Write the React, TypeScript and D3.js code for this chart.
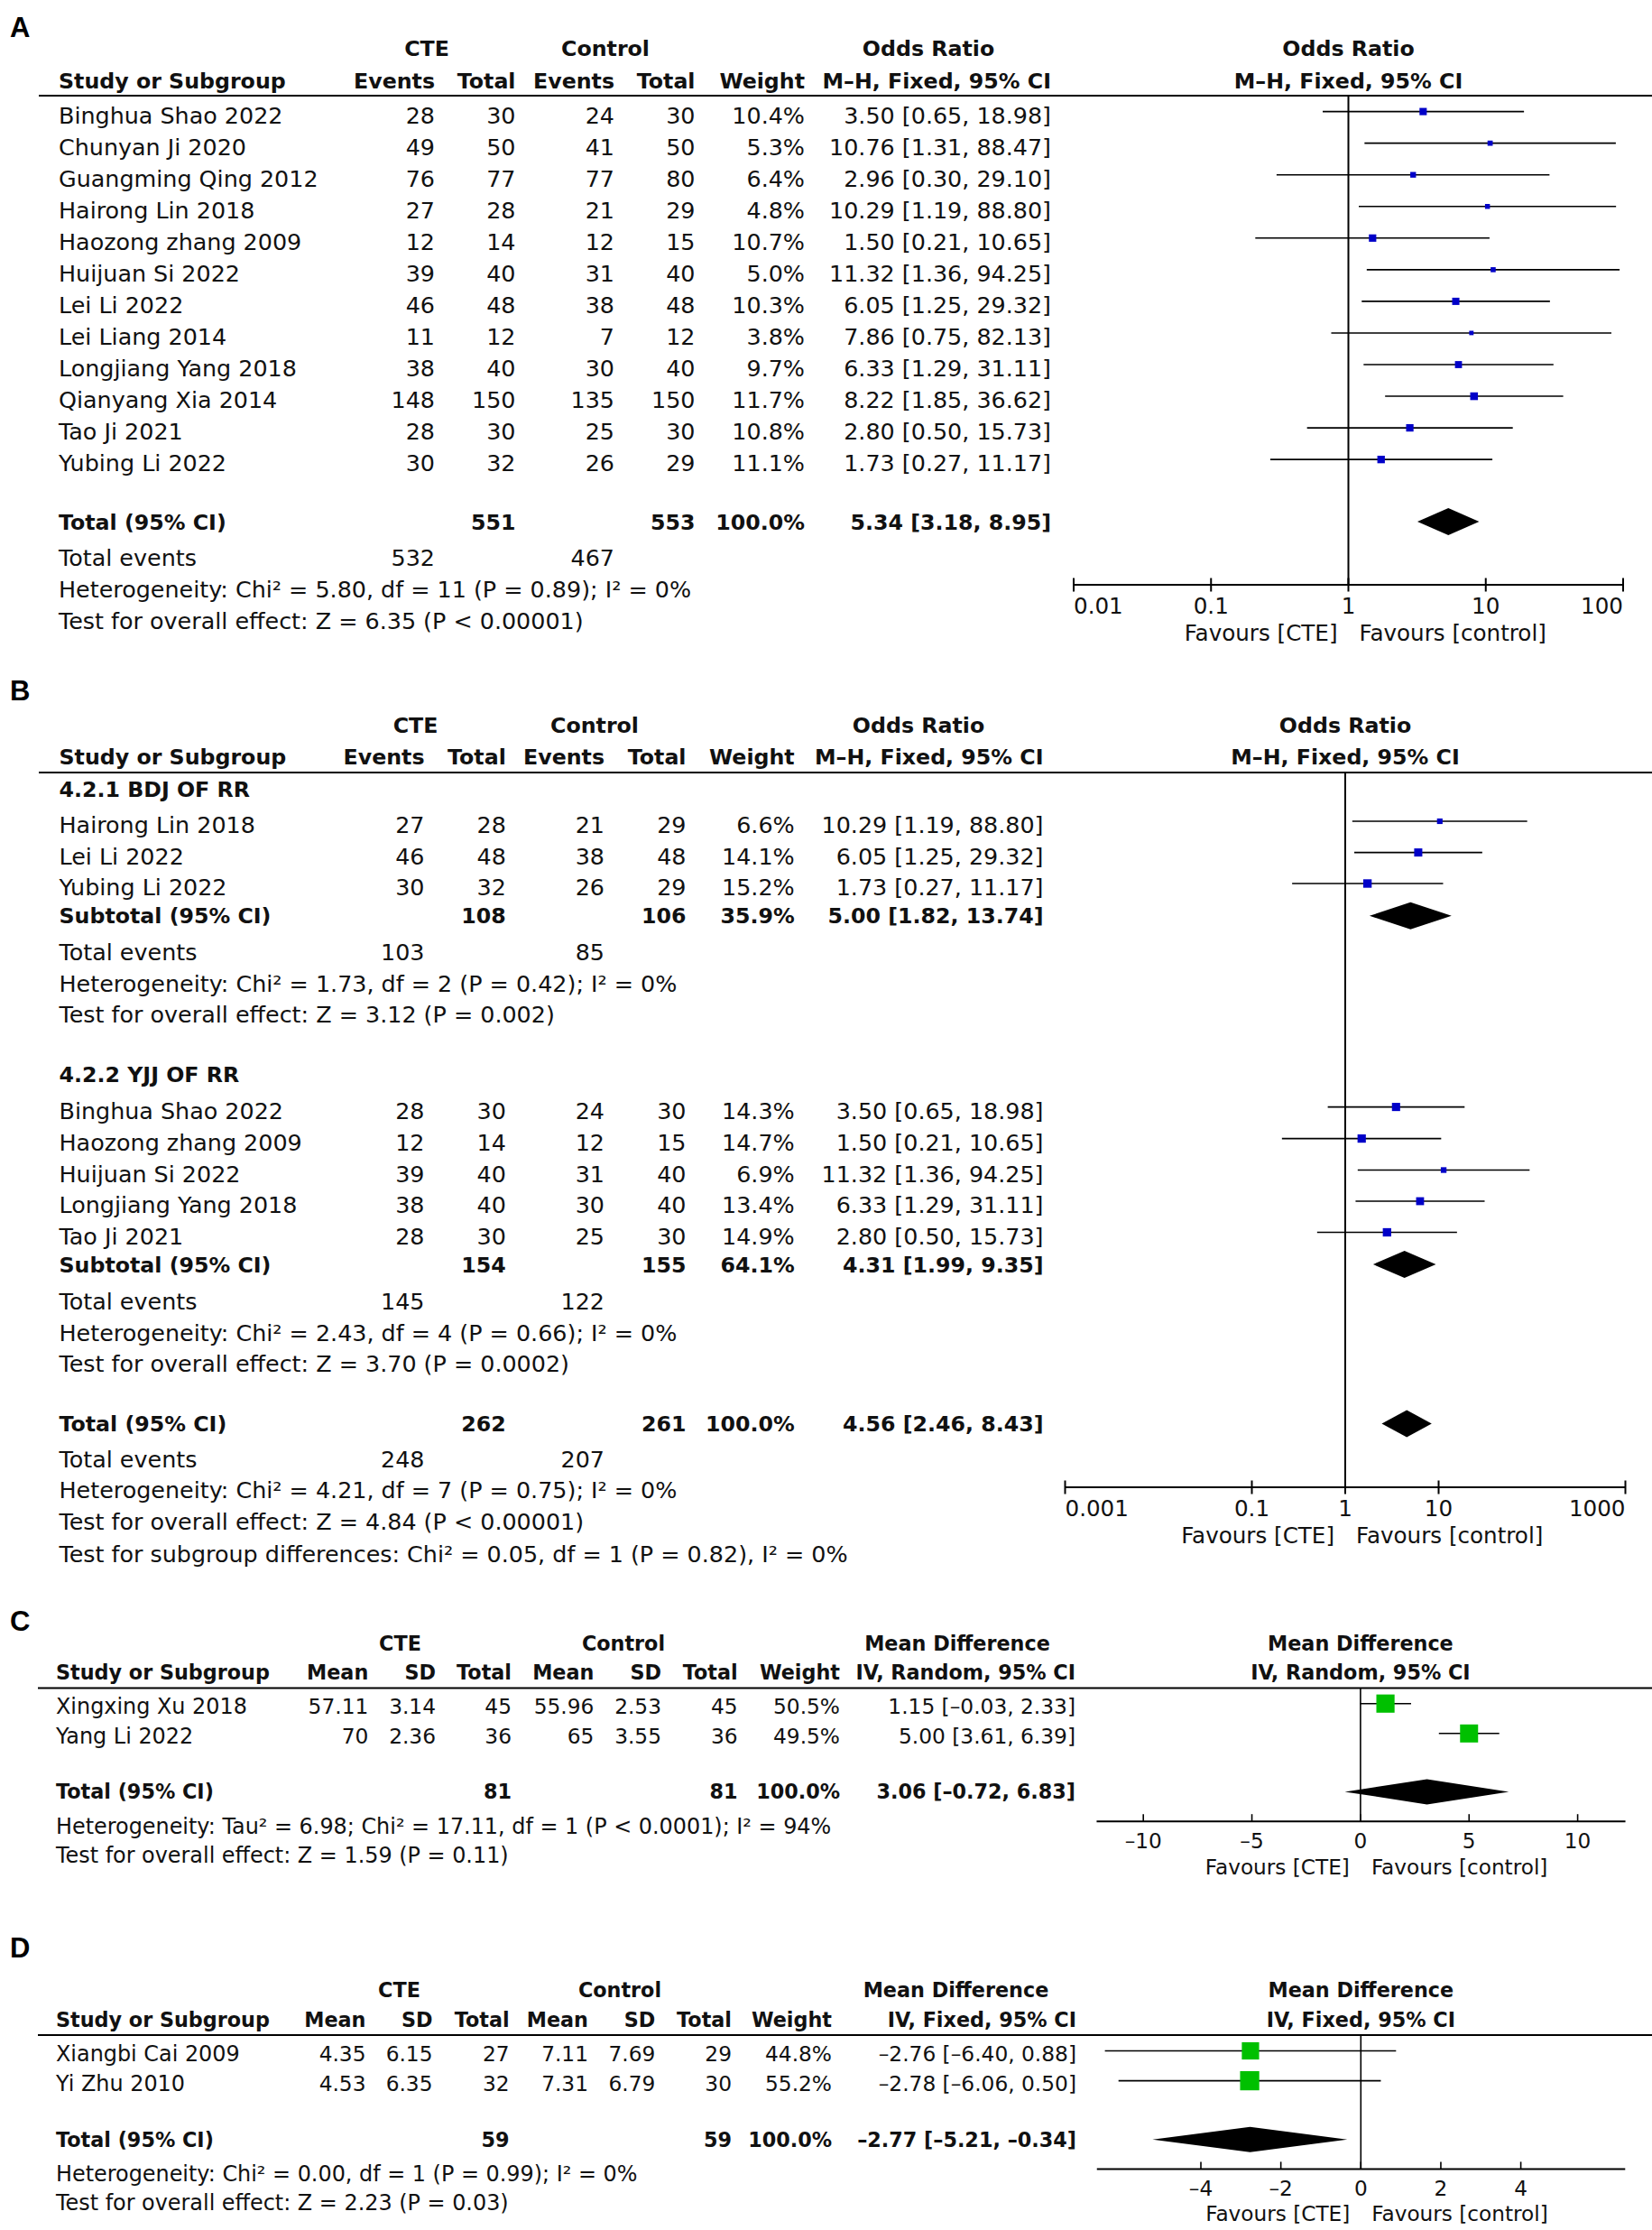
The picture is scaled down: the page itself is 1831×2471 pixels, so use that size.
import React from "react";
import * as d3 from "d3";

const W = 1831;
const H = 2471;
const FONT = "'DejaVu Sans', Verdana, sans-serif";
const LABEL_FONT = "'Liberation Sans', Arial, sans-serif";
const BLUE = "#0000c8";
const GREEN = "#00c000";
const DASH = "\u2013";
const INK = "#111";

// ---------------- Panel A data ----------------
const studiesA = ["Binghua Shao 2022", "Chunyan Ji 2020", "Guangming Qing 2012", "Hairong Lin 2018", "Haozong zhang 2009", "Huijuan Si 2022", "Lei Li 2022", "Lei Liang 2014", "Longjiang Yang 2018", "Qianyang Xia 2014", "Tao Ji 2021", "Yubing Li 2022"];
const cteEventsA = [28, 49, 76, 27, 12, 39, 46, 11, 38, 148, 28, 30];
const cteTotalA = [30, 50, 77, 28, 14, 40, 48, 12, 40, 150, 30, 32];
const ctlEventsA = [24, 41, 77, 21, 12, 31, 38, 7, 30, 135, 25, 26];
const ctlTotalA = [30, 50, 80, 29, 15, 40, 48, 12, 40, 150, 30, 29];
const weightA = [10.4, 5.3, 6.4, 4.8, 10.7, 5.0, 10.3, 3.8, 9.7, 11.7, 10.8, 11.1];
const orA = [3.5, 10.76, 2.96, 10.29, 1.5, 11.32, 6.05, 7.86, 6.33, 8.22, 2.8, 1.73];
const loA = [0.65, 1.31, 0.3, 1.19, 0.21, 1.36, 1.25, 0.75, 1.29, 1.85, 0.5, 0.27];
const hiA = [18.98, 88.47, 29.1, 88.8, 10.65, 94.25, 29.32, 82.13, 31.11, 36.62, 15.73, 11.17];
const totalsA = [551, 553]; // CTE total, control total
const totalEventsA = [532, 467];
const pooledA = [5.34, 3.18, 8.95];
const hetA = "Heterogeneity: Chi\u00b2 = 5.80, df = 11 (P = 0.89); I\u00b2 = 0%";
const testA = "Test for overall effect: Z = 6.35 (P < 0.00001)";
const ticksA = [0.01, 0.1, 1, 10, 100];
const tickLabelsA = ["0.01", "0.1", "1", "10", "100"];

// ---------------- Panel B data ----------------
const studiesB1 = ["Hairong Lin 2018", "Lei Li 2022", "Yubing Li 2022"];
const cteEventsB1 = [27, 46, 30];
const cteTotalB1 = [28, 48, 32];
const ctlEventsB1 = [21, 38, 26];
const ctlTotalB1 = [29, 48, 29];
const weightB1 = [6.6, 14.1, 15.2];
const orB1 = [10.29, 6.05, 1.73];
const loB1 = [1.19, 1.25, 0.27];
const hiB1 = [88.8, 29.32, 11.17];
const subTotalsB1 = [108, 106];
const subWeightB1 = 35.9;
const subEventsB1 = [103, 85];
const pooledB1 = [5.0, 1.82, 13.74];
const hetB1 = "Heterogeneity: Chi\u00b2 = 1.73, df = 2 (P = 0.42); I\u00b2 = 0%";
const testB1 = "Test for overall effect: Z = 3.12 (P = 0.002)";

const studiesB2 = ["Binghua Shao 2022", "Haozong zhang 2009", "Huijuan Si 2022", "Longjiang Yang 2018", "Tao Ji 2021"];
const cteEventsB2 = [28, 12, 39, 38, 28];
const cteTotalB2 = [30, 14, 40, 40, 30];
const ctlEventsB2 = [24, 12, 31, 30, 25];
const ctlTotalB2 = [30, 15, 40, 40, 30];
const weightB2 = [14.3, 14.7, 6.9, 13.4, 14.9];
const orB2 = [3.5, 1.5, 11.32, 6.33, 2.8];
const loB2 = [0.65, 0.21, 1.36, 1.29, 0.5];
const hiB2 = [18.98, 10.65, 94.25, 31.11, 15.73];
const subTotalsB2 = [154, 155];
const subWeightB2 = 64.1;
const subEventsB2 = [145, 122];
const pooledB2 = [4.31, 1.99, 9.35];
const hetB2 = "Heterogeneity: Chi\u00b2 = 2.43, df = 4 (P = 0.66); I\u00b2 = 0%";
const testB2 = "Test for overall effect: Z = 3.70 (P = 0.0002)";

const totalsB = [262, 261];
const totalEventsB = [248, 207];
const pooledB = [4.56, 2.46, 8.43];
const hetB = "Heterogeneity: Chi\u00b2 = 4.21, df = 7 (P = 0.75); I\u00b2 = 0%";
const testB = "Test for overall effect: Z = 4.84 (P < 0.00001)";
const subgroupB = "Test for subgroup differences: Chi\u00b2 = 0.05, df = 1 (P = 0.82), I\u00b2 = 0%";
const ticksB = [0.001, 0.1, 1, 10, 1000];
const tickLabelsB = ["0.001", "0.1", "1", "10", "1000"];

// ---------------- Panel C data ----------------
const studiesC = ["Xingxing Xu 2018", "Yang Li 2022"];
const cteMeanC = [57.11, 70];
const cteSdC = [3.14, 2.36];
const cteTotalC = [45, 36];
const ctlMeanC = [55.96, 65];
const ctlSdC = [2.53, 3.55];
const ctlTotalC = [45, 36];
const weightC = [50.5, 49.5];
const mdC = [1.15, 5.0];
const loC = [-0.03, 3.61];
const hiC = [2.33, 6.39];
const totalsC = [81, 81];
const pooledC = [3.06, -0.72, 6.83];
const hetC = "Heterogeneity: Tau\u00b2 = 6.98; Chi\u00b2 = 17.11, df = 1 (P < 0.0001); I\u00b2 = 94%";
const testC = "Test for overall effect: Z = 1.59 (P = 0.11)";
const ticksC = [-10, -5, 0, 5, 10];

// ---------------- Panel D data ----------------
const studiesD = ["Xiangbi Cai 2009", "Yi Zhu 2010"];
const cteMeanD = [4.35, 4.53];
const cteSdD = [6.15, 6.35];
const cteTotalD = [27, 32];
const ctlMeanD = [7.11, 7.31];
const ctlSdD = [7.69, 6.79];
const ctlTotalD = [29, 30];
const weightD = [44.8, 55.2];
const mdD = [-2.76, -2.78];
const loD = [-6.4, -6.06];
const hiD = [0.88, 0.5];
const totalsD = [59, 59];
const pooledD = [-2.77, -5.21, -0.34];
const hetD = "Heterogeneity: Chi\u00b2 = 0.00, df = 1 (P = 0.99); I\u00b2 = 0%";
const testD = "Test for overall effect: Z = 2.23 (P = 0.03)";
const ticksD = [-4, -2, 0, 2, 4];

// ---------------- formatting ----------------
const f2 = d3.format(".2f");
const f1 = d3.format(".1f");
const sgn = (v: number) => (v < 0 ? DASH : "");
const num2 = (v: number) => sgn(v) + f2(Math.abs(v));
const plain = (v: number) => sgn(v) + String(Math.abs(v));
const ciText = (p: number[]) => `${num2(p[0])} [${num2(p[1])}, ${num2(p[2])}]`;
const pct = (w: number) => f1(w) + "%";

// ---------------- helpers ----------------
function Txt(props: any) {
  const { x, y, a = "start", b = false, fs, children } = props;
  return (
    <text x={x} y={y + 0.36 * fs} textAnchor={a} fontWeight={b ? "bold" : "normal"} fontSize={fs} fontFamily={FONT} fill={INK}>
      {children}
    </text>
  );
}

function Mark(props: any) {
  const { x, y, est, lo, hi, size, color } = props;
  return (
    <g>
      <line x1={x(lo)} x2={x(hi)} y1={y} y2={y} stroke="#000" strokeWidth={1.6} />
      <rect x={x(est) - size / 2} y={y - size / 2} width={size} height={size} fill={color} />
    </g>
  );
}

function Diamond(props: any) {
  const { x, y, p, h } = props;
  const pts = [
    [x(p[1]), y],
    [x(p[0]), y - h],
    [x(p[2]), y],
    [x(p[0]), y + h],
  ];
  return <polygon points={pts.map((q) => q.join(",")).join(" ")} fill="#000" />;
}

function PanelLabel({ text, y }: any) {
  return (
    <text x={11} y={y + 11} fontFamily={LABEL_FONT} fontWeight="bold" fontSize={31} fill="#000">
      {text}
    </text>
  );
}

function LogAxis(props: any) {
  const { x, y, ticks, labels, labelY, favY, fs } = props;
  const [a, b] = x.range();
  return (
    <g>
      <line x1={a} x2={b} y1={y} y2={y} stroke="#000" strokeWidth={2.2} />
      {ticks.map((t: number, i: number) => (
        <line key={"t" + i} x1={x(t)} x2={x(t)} y1={y - 7.5} y2={y + 7.5} stroke="#000" strokeWidth={2} />
      ))}
      {ticks.map((t: number, i: number) => (
        <Txt key={"l" + i} x={x(t)} y={labelY} a={i === 0 ? "start" : i === ticks.length - 1 ? "end" : "middle"} fs={fs}>
          {labels[i]}
        </Txt>
      ))}
      <Txt x={x(1) - 12} y={favY} a="end" fs={fs}>Favours [CTE]</Txt>
      <Txt x={x(1) + 12} y={favY} a="start" fs={fs}>Favours [control]</Txt>
    </g>
  );
}

function LinAxis(props: any) {
  const { x, y, ticks, ext, labelY, favY, fs } = props;
  return (
    <g>
      <line x1={x(ext[0])} x2={x(ext[1])} y1={y} y2={y} stroke="#000" strokeWidth={2} />
      {ticks.map((t: number, i: number) => (
        <line key={"t" + i} x1={x(t)} x2={x(t)} y1={y - 8} y2={y} stroke="#000" strokeWidth={1.6} />
      ))}
      {ticks.map((t: number, i: number) => (
        <Txt key={"l" + i} x={x(t)} y={labelY} a="middle" fs={fs}>
          {plain(t)}
        </Txt>
      ))}
      <Txt x={x(0) - 12} y={favY} a="end" fs={fs}>Favours [CTE]</Txt>
      <Txt x={x(0) + 12} y={favY} a="start" fs={fs}>Favours [control]</Txt>
    </g>
  );
}

function ORHeader(props: any) {
  const { c, y1, y2, lineY, cte, ctl, orC, plotX, fs } = props;
  return (
    <g>
      <Txt x={cte} y={y1} a="middle" b fs={fs}>CTE</Txt>
      <Txt x={ctl} y={y1} a="middle" b fs={fs}>Control</Txt>
      <Txt x={orC} y={y1} a="middle" b fs={fs}>Odds Ratio</Txt>
      <Txt x={plotX} y={y1} a="middle" b fs={fs}>Odds Ratio</Txt>
      <Txt x={c.name} y={y2} b fs={fs}>Study or Subgroup</Txt>
      <Txt x={c.e1} y={y2} a="end" b fs={fs}>Events</Txt>
      <Txt x={c.t1} y={y2} a="end" b fs={fs}>Total</Txt>
      <Txt x={c.e2} y={y2} a="end" b fs={fs}>Events</Txt>
      <Txt x={c.t2} y={y2} a="end" b fs={fs}>Total</Txt>
      <Txt x={c.w} y={y2} a="end" b fs={fs}>Weight</Txt>
      <Txt x={c.ci} y={y2} a="end" b fs={fs}>{`M${DASH}H, Fixed, 95% CI`}</Txt>
      <Txt x={plotX} y={y2} a="middle" b fs={fs}>{`M${DASH}H, Fixed, 95% CI`}</Txt>
      <line x1={43} x2={W} y1={lineY} y2={lineY} stroke="#000" strokeWidth={2.2} />
    </g>
  );
}

function ORRows(props: any) {
  const { c, ys, names, e1, t1, e2, t2, w, est, lo, hi, fs } = props;
  return (
    <g>
      {names.map((n: string, i: number) => (
        <g key={n + i}>
          <Txt x={c.name} y={ys[i]} fs={fs}>{n}</Txt>
          <Txt x={c.e1} y={ys[i]} a="end" fs={fs}>{e1[i]}</Txt>
          <Txt x={c.t1} y={ys[i]} a="end" fs={fs}>{t1[i]}</Txt>
          <Txt x={c.e2} y={ys[i]} a="end" fs={fs}>{e2[i]}</Txt>
          <Txt x={c.t2} y={ys[i]} a="end" fs={fs}>{t2[i]}</Txt>
          <Txt x={c.w} y={ys[i]} a="end" fs={fs}>{pct(w[i])}</Txt>
          <Txt x={c.ci} y={ys[i]} a="end" fs={fs}>{ciText([est[i], lo[i], hi[i]])}</Txt>
        </g>
      ))}
    </g>
  );
}

function ORMarks(props: any) {
  const { x, ys, est, lo, hi, w, k } = props;
  return (
    <g>
      {est.map((e: number, i: number) => (
        <Mark key={i} x={x} y={ys[i] - 4} est={e} lo={lo[i]} hi={hi[i]} size={k * Math.sqrt(w[i])} color={BLUE} />
      ))}
    </g>
  );
}

function ORSummary(props: any) {
  const { c, y, label, totals, weight, pooled, fsB } = props;
  return (
    <g>
      <Txt x={c.name} y={y} b fs={fsB}>{label}</Txt>
      <Txt x={c.t1} y={y} a="end" b fs={fsB}>{totals[0]}</Txt>
      <Txt x={c.t2} y={y} a="end" b fs={fsB}>{totals[1]}</Txt>
      <Txt x={c.w} y={y} a="end" b fs={fsB}>{pct(weight)}</Txt>
      <Txt x={c.ci} y={y} a="end" b fs={fsB}>{ciText(pooled)}</Txt>
    </g>
  );
}

function ORFooter(props: any) {
  const { c, ys, events, lines, fs } = props;
  return (
    <g>
      <Txt x={c.name} y={ys[0]} fs={fs}>Total events</Txt>
      <Txt x={c.e1} y={ys[0]} a="end" fs={fs}>{events[0]}</Txt>
      <Txt x={c.e2} y={ys[0]} a="end" fs={fs}>{events[1]}</Txt>
      {lines.map((l: string, i: number) => (
        <Txt key={i} x={c.name} y={ys[i + 1]} fs={fs}>{l}</Txt>
      ))}
    </g>
  );
}

const FS_AB = 25.4;
const FSB_AB = 23.7;
const FS_AXIS_AB = 24.6;

// ---------------- Panel A ----------------
function PanelA() {
  const fs = FS_AB;
  const fsB = FSB_AB;
  const c = { name: 65, e1: 482, t1: 571.5, e2: 681, t2: 770.5, w: 892, ci: 1165 };
  const x = d3.scaleLog().domain([0.01, 100]).range([1190, 1799]);
  const lineY = 106;
  const axisY = 648;
  const ys = studiesA.map((_, i) => 127.6 + i * 35.05);
  return (
    <g>
      <PanelLabel text="A" y={30} />
      <ORHeader c={c} y1={53} y2={89} lineY={lineY} cte={473} ctl={671} orC={1029} plotX={x(1)} fs={fsB} />
      <line x1={x(1)} x2={x(1)} y1={lineY} y2={axisY} stroke="#000" strokeWidth={2} />
      <ORRows c={c} ys={ys} names={studiesA} e1={cteEventsA} t1={cteTotalA} e2={ctlEventsA} t2={ctlTotalA} w={weightA} est={orA} lo={loA} hi={hiA} fs={fs} />
      <ORMarks x={x} ys={ys} est={orA} lo={loA} hi={hiA} w={weightA} k={2.5} />
      <ORSummary c={c} y={578} label="Total (95% CI)" totals={totalsA} weight={100} pooled={pooledA} fsB={fsB} />
      <Diamond x={x} y={578} p={pooledA} h={15} />
      <ORFooter c={c} ys={[618, 653, 688]} events={totalEventsA} lines={[hetA, testA]} fs={fs} />
      <LogAxis x={x} y={axisY} ticks={ticksA} labels={tickLabelsA} labelY={671.6} favY={701.4} fs={FS_AXIS_AB} />
    </g>
  );
}

// ---------------- Panel B ----------------
function PanelB() {
  const fs = FS_AB;
  const fsB = FSB_AB;
  const c = { name: 65.5, e1: 470.5, t1: 560.8, e2: 670, t2: 760.5, w: 880.7, ci: 1156.5 };
  const x = d3.scaleLog().domain([0.001, 1000]).range([1180.5, 1801.5]);
  const lineY = 856;
  const axisY = 1648;
  const ys1 = [914, 948.6, 983];
  const ys2 = [1230.6, 1265.6, 1300.5, 1335, 1369.5];
  return (
    <g>
      <PanelLabel text="B" y={765} />
      <ORHeader c={c} y1={803} y2={838.5} lineY={lineY} cte={460.5} ctl={659} orC={1018} plotX={x(1)} fs={fsB} />
      <line x1={x(1)} x2={x(1)} y1={lineY} y2={axisY} stroke="#000" strokeWidth={2} />

      <Txt x={c.name} y={874.7} b fs={fsB}>4.2.1 BDJ OF RR</Txt>
      <ORRows c={c} ys={ys1} names={studiesB1} e1={cteEventsB1} t1={cteTotalB1} e2={ctlEventsB1} t2={ctlTotalB1} w={weightB1} est={orB1} lo={loB1} hi={hiB1} fs={fs} />
      <ORMarks x={x} ys={ys1} est={orB1} lo={loB1} hi={hiB1} w={weightB1} k={2.4} />
      <ORSummary c={c} y={1014.8} label="Subtotal (95% CI)" totals={subTotalsB1} weight={subWeightB1} pooled={pooledB1} fsB={fsB} />
      <Diamond x={x} y={1014.8} p={pooledB1} h={15} />
      <ORFooter c={c} ys={[1054.5, 1089.5, 1124]} events={subEventsB1} lines={[hetB1, testB1]} fs={fs} />

      <Txt x={c.name} y={1190.3} b fs={fsB}>4.2.2 YJJ OF RR</Txt>
      <ORRows c={c} ys={ys2} names={studiesB2} e1={cteEventsB2} t1={cteTotalB2} e2={ctlEventsB2} t2={ctlTotalB2} w={weightB2} est={orB2} lo={loB2} hi={hiB2} fs={fs} />
      <ORMarks x={x} ys={ys2} est={orB2} lo={loB2} hi={hiB2} w={weightB2} k={2.4} />
      <ORSummary c={c} y={1401} label="Subtotal (95% CI)" totals={subTotalsB2} weight={subWeightB2} pooled={pooledB2} fsB={fsB} />
      <Diamond x={x} y={1401} p={pooledB2} h={15} />
      <ORFooter c={c} ys={[1442, 1476.5, 1511]} events={subEventsB2} lines={[hetB2, testB2]} fs={fs} />

      <ORSummary c={c} y={1577.5} label="Total (95% CI)" totals={totalsB} weight={100} pooled={pooledB} fsB={fsB} />
      <Diamond x={x} y={1577.5} p={pooledB} h={15} />
      <ORFooter c={c} ys={[1616.7, 1651.3, 1686, 1722]} events={totalEventsB} lines={[hetB, testB, subgroupB]} fs={fs} />
      <LogAxis x={x} y={axisY} ticks={ticksB} labels={tickLabelsB} labelY={1671} favY={1701} fs={FS_AXIS_AB} />
    </g>
  );
}

// ---------------- Mean difference panels ----------------
function MDPanel(props: any) {
  const { label, labelY, c, y1, y2, lineY, rowYs, totalY, hetYs, axisY, labelYs, x, ticks, ext, method, hdr, names, m1, s1, n1, m2, s2, n2, w, est, lo, hi, totals, pooled, het, test, k } = props;
  const fs = 23.9;
  const fsNum = 23.3;
  const fsB = 22.3;
  const fsAxis = 23.2;
  return (
    <g>
      <PanelLabel text={label} y={labelY} />
      <Txt x={hdr.cte} y={y1} a="middle" b fs={fsB}>CTE</Txt>
      <Txt x={hdr.ctl} y={y1} a="middle" b fs={fsB}>Control</Txt>
      <Txt x={hdr.md} y={y1} a="middle" b fs={fsB}>Mean Difference</Txt>
      <Txt x={x(0)} y={y1} a="middle" b fs={fsB}>Mean Difference</Txt>
      <Txt x={c.name} y={y2} b fs={fsB}>Study or Subgroup</Txt>
      <Txt x={c.m1} y={y2} a="end" b fs={fsB}>Mean</Txt>
      <Txt x={c.s1} y={y2} a="end" b fs={fsB}>SD</Txt>
      <Txt x={c.n1} y={y2} a="end" b fs={fsB}>Total</Txt>
      <Txt x={c.m2} y={y2} a="end" b fs={fsB}>Mean</Txt>
      <Txt x={c.s2} y={y2} a="end" b fs={fsB}>SD</Txt>
      <Txt x={c.n2} y={y2} a="end" b fs={fsB}>Total</Txt>
      <Txt x={c.w} y={y2} a="end" b fs={fsB}>Weight</Txt>
      <Txt x={c.ci} y={y2} a="end" b fs={fsB}>{method}</Txt>
      <Txt x={x(0)} y={y2} a="middle" b fs={fsB}>{method}</Txt>
      <line x1={42} x2={W} y1={lineY} y2={lineY} stroke="#000" strokeWidth={2.2} />
      <line x1={x(0)} x2={x(0)} y1={lineY} y2={axisY} stroke="#000" strokeWidth={1.6} />
      {names.map((n: string, i: number) => (
        <g key={n}>
          <Txt x={c.name} y={rowYs[i]} fs={fs}>{n}</Txt>
          <Txt x={c.m1} y={rowYs[i]} a="end" fs={fsNum}>{plain(m1[i])}</Txt>
          <Txt x={c.s1} y={rowYs[i]} a="end" fs={fsNum}>{plain(s1[i])}</Txt>
          <Txt x={c.n1} y={rowYs[i]} a="end" fs={fsNum}>{n1[i]}</Txt>
          <Txt x={c.m2} y={rowYs[i]} a="end" fs={fsNum}>{plain(m2[i])}</Txt>
          <Txt x={c.s2} y={rowYs[i]} a="end" fs={fsNum}>{plain(s2[i])}</Txt>
          <Txt x={c.n2} y={rowYs[i]} a="end" fs={fsNum}>{n2[i]}</Txt>
          <Txt x={c.w} y={rowYs[i]} a="end" fs={fsNum}>{pct(w[i])}</Txt>
          <Txt x={c.ci} y={rowYs[i]} a="end" fs={fsNum}>{ciText([est[i], lo[i], hi[i]])}</Txt>
          <Mark x={x} y={rowYs[i] - 3} est={est[i]} lo={lo[i]} hi={hi[i]} size={k * Math.sqrt(w[i])} color={GREEN} />
        </g>
      ))}
      <Txt x={c.name} y={totalY} b fs={fsB}>Total (95% CI)</Txt>
      <Txt x={c.n1} y={totalY} a="end" b fs={fsB}>{totals[0]}</Txt>
      <Txt x={c.n2} y={totalY} a="end" b fs={fsB}>{totals[1]}</Txt>
      <Txt x={c.w} y={totalY} a="end" b fs={fsB}>{pct(100)}</Txt>
      <Txt x={c.ci} y={totalY} a="end" b fs={fsB}>{ciText(pooled)}</Txt>
      <Diamond x={x} y={totalY} p={pooled} h={14} />
      <Txt x={c.name} y={hetYs[0]} fs={fs}>{het}</Txt>
      <Txt x={c.name} y={hetYs[1]} fs={fs}>{test}</Txt>
      <LinAxis x={x} y={axisY} ticks={ticks} ext={ext} labelY={labelYs[0]} favY={labelYs[1]} fs={fsAxis} />
    </g>
  );
}

function PanelC() {
  const x = d3.scaleLinear().domain([-10, 10]).range([1267.2, 1748.6]);
  return (
    <MDPanel
      label="C" labelY={1796}
      c={{ name: 62, m1: 408.3, s1: 483, n1: 567, m2: 658.4, s2: 733, n2: 817.6, w: 931, ci: 1192 }}
      hdr={{ cte: 443.5, ctl: 691, md: 1061 }}
      y1={1820.5} y2={1853} lineY={1870.5} rowYs={[1890.7, 1923.8]} totalY={1985.4} hetYs={[2023.6, 2055.7]}
      axisY={2018.2} labelYs={[2040, 2068.7]} x={x} ticks={ticksC} ext={[-12.15, 12.2]}
      method="IV, Random, 95% CI"
      names={studiesC} m1={cteMeanC} s1={cteSdC} n1={cteTotalC} m2={ctlMeanC} s2={ctlSdC} n2={ctlTotalC}
      w={weightC} est={mdC} lo={loC} hi={hiC} totals={totalsC} pooled={pooledC} het={hetC} test={testC} k={2.84}
    />
  );
}

function PanelD() {
  const x = d3.scaleLinear().domain([-4, 4]).range([1331, 1685.6]);
  return (
    <MDPanel
      label="D" labelY={2158.3}
      c={{ name: 62, m1: 405.5, s1: 479.5, n1: 564.6, m2: 652, s2: 726.4, n2: 811, w: 922, ci: 1193 }}
      hdr={{ cte: 442.5, ctl: 687, md: 1059.5 }}
      y1={2205.3} y2={2238.2} lineY={2255} rowYs={[2275.5, 2308.6]} totalY={2370.7} hetYs={[2408.4, 2440.6]}
      axisY={2403.4} labelYs={[2425, 2452.6]} x={x} ticks={ticksD} ext={[-6.6, 6.61]}
      method="IV, Fixed, 95% CI"
      names={studiesD} m1={cteMeanD} s1={cteSdD} n1={cteTotalD} m2={ctlMeanD} s2={ctlSdD} n2={ctlTotalD}
      w={weightD} est={mdD} lo={loD} hi={hiD} totals={totalsD} pooled={pooledD} het={hetD} test={testD} k={2.86}
    />
  );
}

export default function App() {
  return (
    <svg
      width={W}
      height={H}
      viewBox={`0 0 ${W} ${H}`}
      style={{ position: "absolute", left: 0, top: 0, display: "block", background: "#fff" }}
    >
      <rect x={0} y={0} width={W} height={H} fill="#fff" />
      <PanelA />
      <PanelB />
      <PanelC />
      <PanelD />
    </svg>
  );
}
